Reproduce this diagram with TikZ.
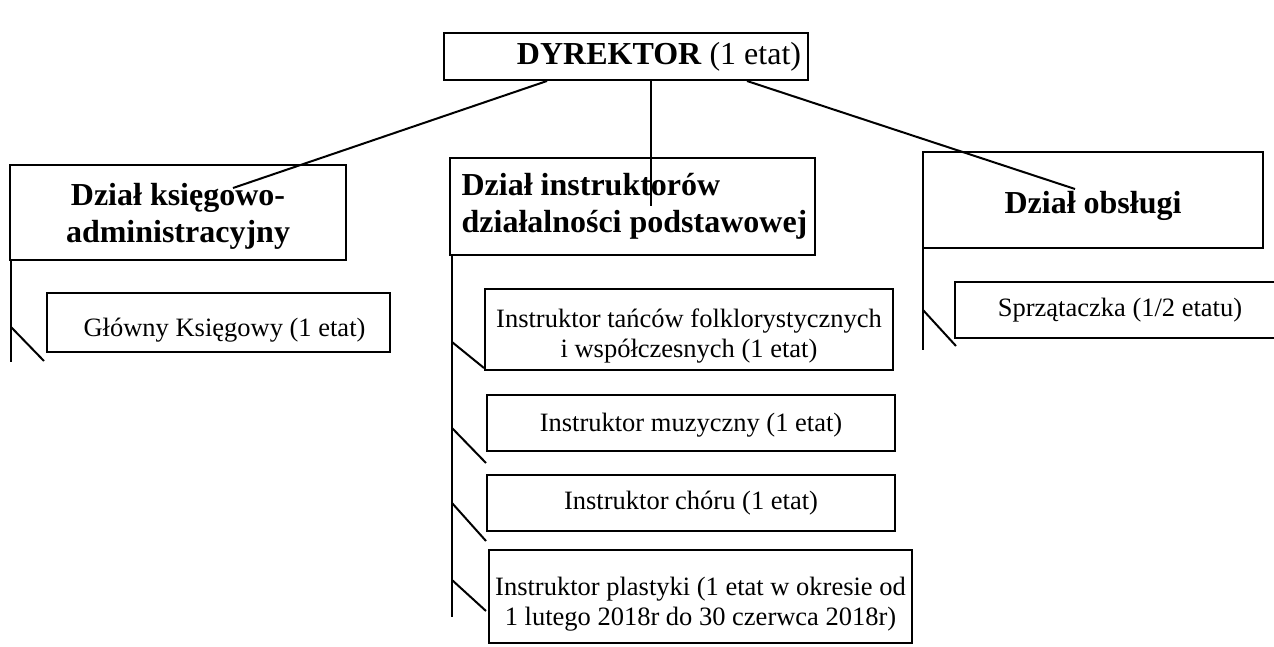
\documentclass[tikz,border=0pt]{standalone}
\usepackage{fontspec}
\setmainfont{Liberation Serif}
\newcommand\dropby[2]{\raisebox{-#1}[\height][\depth]{#2}}
\begin{document}
\begin{tikzpicture}[x=1pt,y=-1pt,
  box/.style={draw, line width=2pt, inner sep=0pt, anchor=center},
  head/.style={box, font=\fontsize{32}{37}\selectfont\bfseries},
  job/.style={box, font=\fontsize{26.5}{30}\selectfont},
  conn/.style={line width=2pt}]
\useasboundingbox (0,0) rectangle (1274,647);
\clip (0,0) rectangle (1274,647);
% boxes
\node[box, minimum width=364pt, minimum height=47pt, font=\fontsize{32}{36}\selectfont] (dyr) at (626,56.5) {\hspace*{66pt}\textbf{DYREKTOR} (1 etat)};
\node[head, minimum width=336pt, minimum height=95pt, align=center] (ksieg) at (178,212.5) {\dropby{4pt}{Dział księgowo-}\\\dropby{4pt}{administracyjny}};
\node[head, minimum width=365pt, minimum height=97pt, align=left] (instr) at (632.5,206.5) {\hspace*{4pt}Dział instruktorów\\\hspace*{4pt}działalności podstawowej};
\node[head, minimum width=340pt, minimum height=96pt] (obsl) at (1093,200) {\dropby{6pt}{Dział obsługi}};
\node[job, minimum width=343pt, minimum height=59pt] (glow) at (218.5,322.5) {\hspace*{12pt}\dropby{8pt}{Główny Księgowy (1 etat)}};
\node[job, minimum width=408pt, minimum height=81pt, align=center] (tan) at (689,329.5) {\dropby{7pt}{Instruktor tańców folklorystycznych}\\\dropby{7pt}{i współczesnych (1 etat)}};
\node[job, minimum width=408pt, minimum height=56pt] (muz) at (691,423) {\dropby{2pt}{Instruktor muzyczny (1 etat)}};
\node[job, minimum width=408pt, minimum height=56pt] (chor) at (691,503) {Instruktor chóru (1 etat)};
\node[job, minimum width=423pt, minimum height=93pt, align=center] (plast) at (700.5,596.5) {\dropby{8pt}{Instruktor plastyki (1 etat w okresie od}\\\dropby{8pt}{1 lutego 2018r do 30 czerwca 2018r)}};
\node[job, minimum width=330pt, minimum height=56pt] (sprz) at (1120,310) {Sprzątaczka (1/2 etatu)};
% connectors from director
\draw[conn] ([xshift=-79pt]dyr.south) -- ([xshift=55pt,yshift=24.5pt]ksieg.center);
\draw[conn] ([xshift=25pt]dyr.south) -- ([xshift=25pt]dyr.south |- instr.center);
\draw[conn] ([xshift=121pt]dyr.south) -- ([xshift=-18pt,yshift=11pt]obsl.center);
% branch lines
\coordinate (kend) at ([xshift=2pt]ksieg.south west |- 0,362);
\coordinate (iend) at ([xshift=3pt]instr.south west |- 0,617);
\coordinate (oend) at ([xshift=1pt]obsl.south west |- 0,350);
\draw[conn] ([xshift=2pt]ksieg.south west) -- (kend);
\draw[conn] ([xshift=3pt]instr.south west) -- (iend);
\draw[conn] ([xshift=1pt]obsl.south west) -- (oend);
% stubs
\draw[conn] (kend |- 0,327) -- ([xshift=-2pt,yshift=-8pt]glow.south west);
\draw[conn] (iend |- 0,342) -- ([yshift=3pt]tan.south west);
\draw[conn] (iend |- 0,428) -- ([yshift=-11pt]muz.south west);
\draw[conn] (iend |- 0,503) -- ([yshift=-9pt]chor.south west);
\draw[conn] (iend |- 0,580) -- ([xshift=-2pt,yshift=33pt]plast.south west);
\draw[conn] (oend |- 0,310) -- ([xshift=2pt,yshift=-7pt]sprz.south west);
\end{tikzpicture}
\end{document}
